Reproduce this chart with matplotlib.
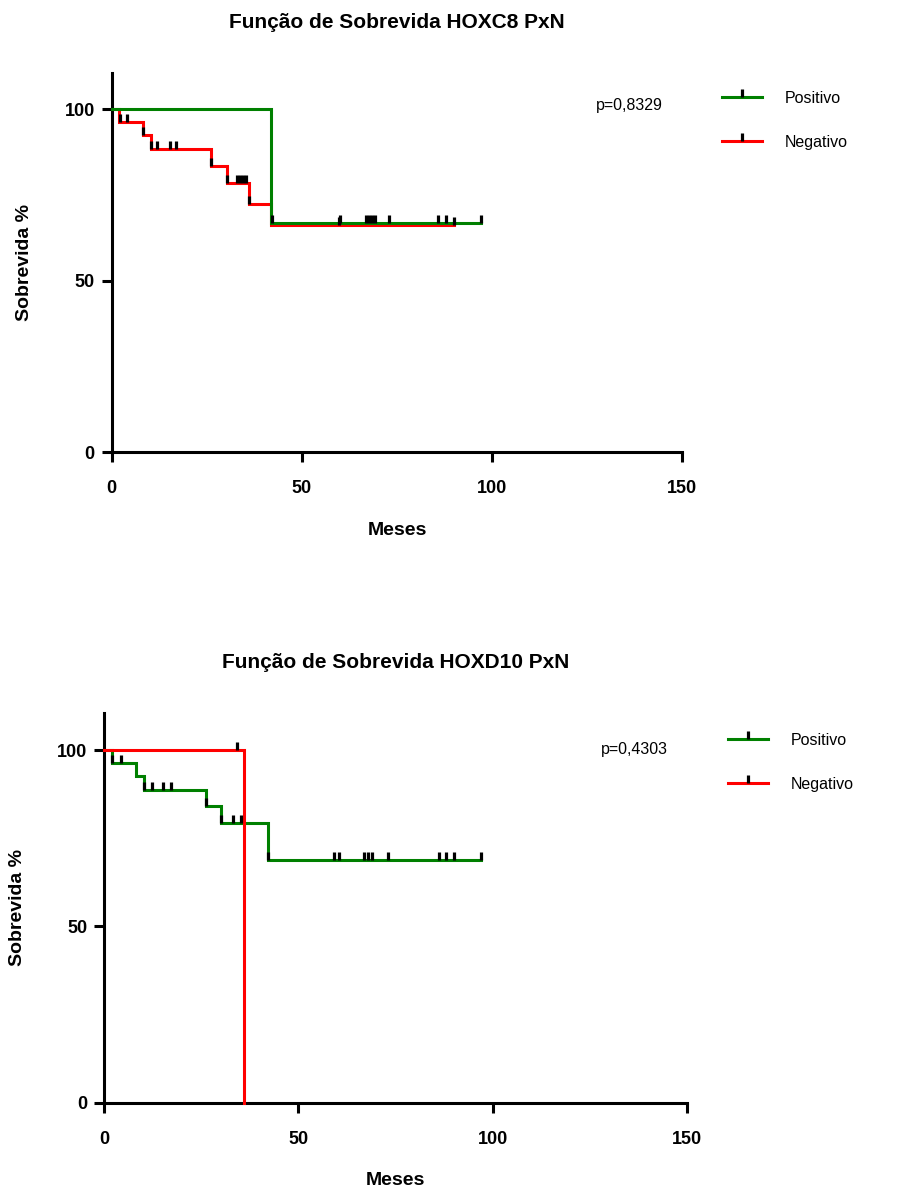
import numpy as np
import matplotlib
matplotlib.use("Agg")
import matplotlib.pyplot as plt
from matplotlib.path import Path
from matplotlib.lines import Line2D

plt.rcParams['font.family'] = ['Liberation Sans', 'DejaVu Sans']

# ---------------- data ----------------
# Panel 1: HOXC8
c8_pos_times = [0, 42.0]
c8_pos_surv = [100, 66.9]
c8_pos_end = 97.0
c8_pos_cens = [42.2, 60.1, 66.8, 67.6, 68.4, 69.3, 72.8, 85.9, 87.8, 97.0]

c8_neg_times = [0, 1.9, 8.2, 10.2, 26.2, 30.2, 36.0, 41.9]
c8_neg_surv = [100, 96.3, 92.4, 88.4, 83.4, 78.4, 72.4, 66.3]
c8_neg_end = 89.9
c8_neg_cens = [2.1, 4.1, 8.2, 10.2, 12.0, 15.2, 17.0, 26.2, 30.2,
               32.9, 33.7, 34.5, 35.3, 36.0, 59.7, 89.9]
c8_title = "Função de Sobrevida HOXC8 PxN"
c8_p = "p=0,8329"

# Panel 2: HOXD10
d10_pos_times = [0, 2.07, 8.16, 10.2, 26.2, 30.05, 42.2]
d10_pos_surv = [100, 96.4, 92.6, 88.7, 84.1, 79.4, 68.8]
d10_pos_end = 97.0
d10_pos_cens = [2.07, 4.3, 10.2, 12.2, 15.1, 17.2, 26.2, 30.05, 33.1, 35.2,
                42.2, 59.2, 60.4, 66.9, 67.9, 68.9, 73.0, 86.2, 88.0, 90.1, 97.0]

d10_neg_times = [0, 36.05]
d10_neg_surv = [100, 0]
d10_neg_end = 36.05
d10_neg_cens = [34.1]
d10_title = "Função de Sobrevida HOXD10 PxN"
d10_p = "p=0,4303"

series_labels = ["Positivo", "Negativo"]
xticks = [0, 50, 100, 150]
yticks = [0, 50, 100]
xlabel = "Meses"
ylabel = "Sobrevida %"

GREEN = "#008000"
RED = "#ff0000"
LW = 2.2
TICK = Path([(0, 0), (0, 1)], [Path.MOVETO, Path.LINETO])


def surv_at(times, surv, t):
    idx = np.searchsorted(np.asarray(times), np.asarray(t), side='right') - 1
    return np.asarray(surv)[idx]


def draw_km(ax, times, surv, end, cens, color, z):
    xs = list(times) + [end]
    ys = list(surv) + [surv[-1]]
    ax.step(xs, ys, where='post', color=color, lw=LW, clip_on=False,
            zorder=z, solid_joinstyle='miter')
    ax.plot(cens, surv_at(times, surv, cens), linestyle='none', marker=TICK,
            ms=11.5, mew=2.3, color='black', clip_on=False, zorder=10)


def style_axes(ax, title, pval, title_y, ylab_x, xlab_y, leg_anchor, p_xy):
    ax.set_xlim(0, 150)
    ax.set_ylim(0, 110.6)
    for s in ['top', 'right']:
        ax.spines[s].set_visible(False)
    for s in ['left', 'bottom']:
        ax.spines[s].set_linewidth(2.2)
    ax.set_xticks(xticks)
    ax.set_yticks(yticks)
    ax.tick_params(axis='both', direction='out', length=7.2, width=2.2,
                   labelsize=13)
    ax.tick_params(axis='x', pad=13)
    ax.tick_params(axis='y', pad=5)
    for lab in ax.get_xticklabels() + ax.get_yticklabels():
        lab.set_fontweight('bold')
    ax.set_title(title, fontsize=15, fontweight='bold', y=title_y,
                 va='center', pad=0)
    ax.set_xlabel(xlabel, fontsize=14, fontweight='bold')
    ax.xaxis.set_label_coords(0.5, xlab_y)
    ax.xaxis.label.set_va('center')
    ax.set_ylabel(ylabel, fontsize=14, fontweight='bold')
    ax.yaxis.set_label_coords(ylab_x, 0.5)
    ax.yaxis.label.set_va('center')
    ax.text(p_xy[0], p_xy[1], pval, transform=ax.transAxes, fontsize=11.5,
            ha='center', va='center')
    handles = [Line2D([], [], color=GREEN, lw=LW, marker=TICK, ms=11.5,
                      mew=2.3, mec='black'),
               Line2D([], [], color=RED, lw=LW, marker=TICK, ms=11.5,
                      mew=2.3, mec='black')]
    ax.legend(handles, series_labels, loc='upper left',
              bbox_to_anchor=leg_anchor, bbox_transform=ax.transAxes,
              frameon=False, borderpad=0, borderaxespad=0, fontsize=11.5,
              handlelength=2.5, handletextpad=1.4, labelspacing=1.8,
              markerfirst=True, numpoints=1)


fig = plt.figure(figsize=(8.98, 11.94), dpi=100)

ax1 = fig.add_axes([0.1244, 0.6212, 0.6354, 0.3179])
draw_km(ax1, c8_neg_times, c8_neg_surv, c8_neg_end, c8_neg_cens, RED, 3)
draw_km(ax1, c8_pos_times, c8_pos_surv, c8_pos_end, c8_pos_cens, GREEN, 4)
style_axes(ax1, c8_title, c8_p, 1.133, -0.152, -0.207,
           (1.0696, 0.952), (0.9066, 0.913))

ax2 = fig.add_axes([0.1161, 0.07647, 0.6486, 0.3266])
draw_km(ax2, d10_pos_times, d10_pos_surv, d10_pos_end, d10_pos_cens, GREEN, 3)
draw_km(ax2, d10_neg_times, d10_neg_surv, d10_neg_end, d10_neg_cens, RED, 4)
style_axes(ax2, d10_title, d10_p, 1.130, -0.149, -0.200,
           (1.0709, 0.948), (0.9095, 0.907))

fig.savefig("out.png", dpi=100)
